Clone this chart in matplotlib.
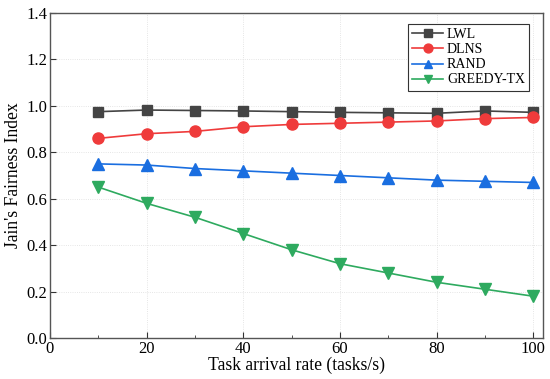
import numpy as np
import matplotlib
matplotlib.use("Agg")
import matplotlib.pyplot as plt
from matplotlib.ticker import MultipleLocator

plt.rcParams['font.family'] = ['Liberation Serif', 'DejaVu Serif']

# data
rate = [10, 20, 30, 40, 50, 60, 70, 80, 90, 100]
lwl = [0.975, 0.982, 0.980, 0.978, 0.975, 0.972, 0.970, 0.968, 0.978, 0.972]
dlns = [0.860, 0.880, 0.890, 0.910, 0.920, 0.925, 0.930, 0.935, 0.945, 0.950]
rand = [0.750, 0.745, 0.730, 0.720, 0.710, 0.700, 0.690, 0.680, 0.675, 0.670]
greedy = [0.650, 0.580, 0.520, 0.450, 0.380, 0.320, 0.280, 0.240, 0.210, 0.180]

fig = plt.figure(figsize=(5.5, 3.79), dpi=100)
ax = fig.add_axes([50/550, 1-338/379, 493/550, 325/379])

ax.plot(rate, lwl, color="#444444", marker="s", ms=7, lw=1.2, label="LWL")
ax.plot(rate, dlns, color="#ef3b3b", marker="o", ms=8, lw=1.2, label="DLNS")
ax.plot(rate, rand, color="#1a6ee0", marker="^", ms=8, lw=1.2, label="RAND")
ax.plot(rate, greedy, color="#2eaa5f", marker="v", ms=8, lw=1.2, label="GREEDY-TX")

ax.set_xlim(0, 102)
ax.set_ylim(0, 1.4)
ax.xaxis.set_major_locator(MultipleLocator(20))
ax.xaxis.set_minor_locator(MultipleLocator(10))
ax.yaxis.set_major_locator(MultipleLocator(0.2))
ax.yaxis.set_major_formatter(matplotlib.ticker.FormatStrFormatter('%.1f'))
ax.tick_params(which="both", direction="in", labelsize=12, colors="#333333", pad=2)
ax.tick_params(which="major", length=4)
ax.tick_params(which="minor", length=2)
for lab in ax.get_xticklabels() + ax.get_yticklabels():
    lab.set_color("black")
ax.grid(True, which="major", ls=":", lw=0.6, color="#dddddd")
for s in ax.spines.values():
    s.set_color("#555555")
    s.set_linewidth(1.0)

ax.set_xlabel("Task arrival rate (tasks/s)", fontsize=12.7, labelpad=0)
ax.set_ylabel("Jain's Fairness Index", fontsize=12.7, labelpad=3)

leg = ax.legend(loc="upper right", fontsize=10, fancybox=False, framealpha=1,
                edgecolor="#333333", handlelength=2.2, borderpad=0.3,
                labelspacing=0.15, handletextpad=0.3, markerscale=0.8,
                borderaxespad=0, bbox_to_anchor=(0.972, 0.966))
leg.get_frame().set_linewidth(0.8)

fig.savefig("out.png", dpi=100)
